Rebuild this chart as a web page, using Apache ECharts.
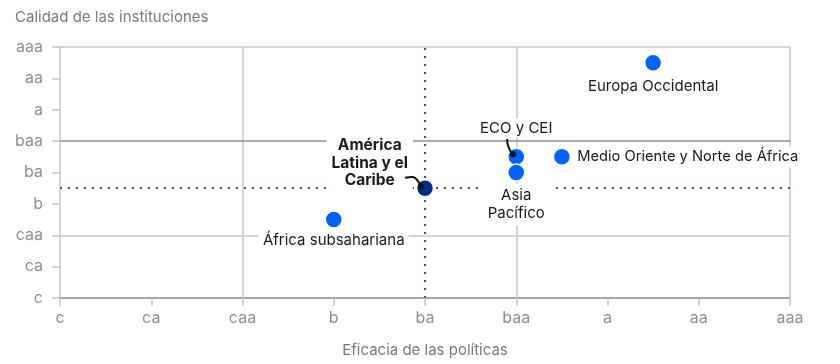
<!DOCTYPE html>
<html><head><meta charset="utf-8">
<script src="https://cdn.jsdelivr.net/npm/echarts@6/dist/echarts.min.js"></script>
<style>html,body{margin:0;padding:0;background:#fff}#c{width:840px;height:364px}</style>
</head><body><div id="c"></div>
<script>
// Rating scale tick labels (index 0..8)
const ratingLabels = ['c','ca','caa','b','ba','baa','a','aa','aaa'];
// Regions
const regionNames = ['Europa Occidental','Medio Oriente y Norte de África','ECO y CEI','Asia\nPacífico','América\nLatina y el\nCaribe','África subsahariana'];
const policyScore = [6.5, 5.5, 5, 5, 4, 3];            // x: Eficacia de las políticas
const institutionScore = [7.5, 4.5, 4.5, 4, 3.5, 2.5]; // y: Calidad de las instituciones
// Grid lines drawn at these rating indices
const gridX = [2, 5, 8];
const gridY = [2, 5, 8];
const strongGridY = 5;
// Reference lines (América Latina y el Caribe)
const refX = 4, refY = 3.5;
// Leader lines (data units)
const ecoLeader = [[4.90, 5.07], [4.91, 4.85], [4.965, 4.58]];
const latamLeader = [[3.78, 3.83], [3.86, 3.86], [3.955, 3.55]];

const FONT = 'Inter';
const blue = '#0062ff', navy = '#062c86';

const labelCfg = [
  {position:'bottom', distance:5},
  {position:'right', distance:4, padding:[3,2], fontSize:14.7},
  {position:'top', distance:0, offset:[0,-10], padding:[2,4]},
  {position:'bottom', distance:2, lineHeight:18, padding:[3,7]},
  {position:'left', distance:0, align:'center', verticalAlign:'middle', offset:[-46,-25], fontWeight:'bold', fontSize:15.5, lineHeight:17.5, padding:[4,5]},
  {position:'bottom', distance:2}
];

const points = regionNames.map((n,i)=>({
  name:n,
  value:[policyScore[i], institutionScore[i]],
  itemStyle:{color: i===4 ? navy : blue, opacity:1},
  label: Object.assign({show:true, formatter:'{b}', color:'#1a1a1a', fontSize:15, fontFamily:FONT,
          backgroundColor:'#fff', padding:[2,4]}, labelCfg[i])
}));

const gridStyle = {color:'#c8c8c8', width:1.5, type:'solid'};
const gridLines = gridX.map(v=>({xAxis:v, lineStyle:gridStyle}))
  .concat(gridY.map(v=>({yAxis:v, lineStyle: v===strongGridY ? {color:'#8e8e8e', width:1.5, type:'solid'} : gridStyle})));
const dotStyle = {color:'#2a58b8', width:2, type:[2,6]};
const refLines = [{xAxis:refX, lineStyle:dotStyle},{yAxis:refY, lineStyle:dotStyle}];

const chart = echarts.init(document.getElementById('c'), null, {renderer:'canvas'});
chart.setOption({
  animation:false,
  title:{text:'Calidad de las instituciones', left:10, top:5,
    textStyle:{fontFamily:FONT, fontSize:15, fontWeight:'normal', color:'#7a7a7a'}},
  grid:{left:60, right:50, top:47, bottom:66},
  xAxis:{type:'value', min:0, max:8, interval:1,
    name:'Eficacia de las políticas', nameLocation:'middle', nameGap:45,
    nameTextStyle:{fontFamily:FONT, fontSize:15, color:'#7a7a7a'},
    axisLine:{show:true, lineStyle:{color:'#8c8c8c', width:1.5}},
    axisTick:{show:true, length:8, lineStyle:{color:'#c4c4c4', width:1.5}},
    axisLabel:{margin:12, fontFamily:FONT, fontSize:16, color:'#8f8f8f', formatter:v=>ratingLabels[v]},
    splitLine:{show:false}},
  yAxis:{type:'value', min:0, max:8, interval:1,
    axisLine:{show:true, lineStyle:{color:'#c6c6c6', width:1.5}},
    axisTick:{show:true, length:8, lineStyle:{color:'#c4c4c4', width:1.5}},
    axisLabel:{margin:17, fontFamily:FONT, fontSize:16, color:'#8f8f8f', formatter:v=>ratingLabels[v]},
    splitLine:{show:false}},
  series:[
    {type:'scatter', z:1, data:[], silent:true,
      markLine:{z:1, silent:true, symbol:'none', label:{show:false}, data:gridLines}},
    {type:'scatter', z:1, data:[], silent:true,
      markLine:{z:2, silent:true, symbol:'none', label:{show:false}, data:refLines}},
    {type:'line', z:4, data:ecoLeader, smooth:true, symbol:'none', silent:true,
      lineStyle:{color:'#111', width:2}},
    {type:'line', z:4, data:latamLeader, smooth:true, symbol:'none', silent:true,
      lineStyle:{color:'#111', width:2}},
    {type:'scatter', z:3, symbolSize:17, data:points,
      itemStyle:{borderColor:'#fff', borderWidth:1.5}},
    {type:'scatter', z:5, symbolSize:6, silent:true,
      data:[ecoLeader[ecoLeader.length-1], latamLeader[latamLeader.length-1]],
      itemStyle:{color:'#111', opacity:1}}
  ]
});
</script></body></html>
